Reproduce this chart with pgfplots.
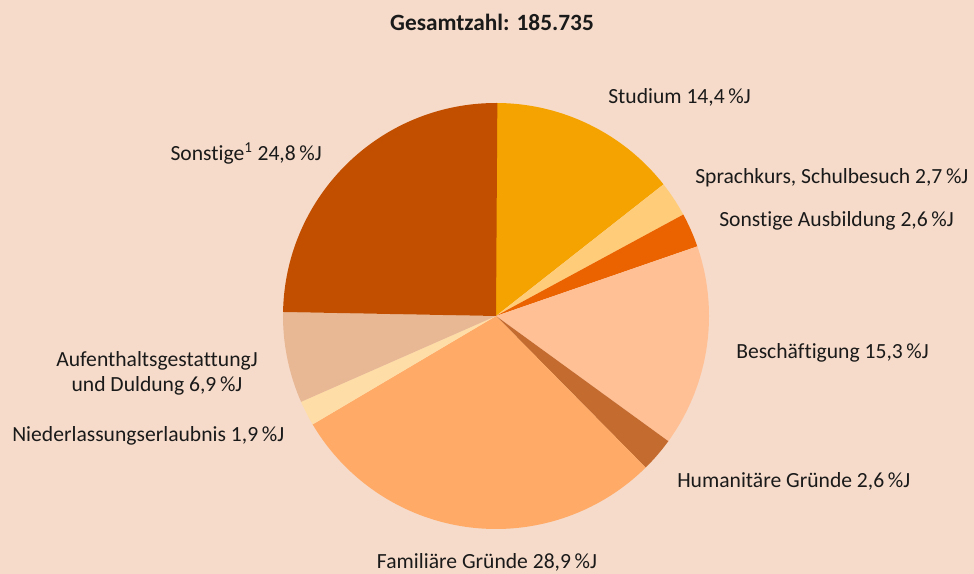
\documentclass[border=0pt]{standalone}
\usepackage{pgfplots}
\usepackage{pgfplotstable}
\pgfplotsset{compat=1.18}
\usepackage{fontspec}
\setmainfont[Ligatures=NoCommon]{Carlito}
\definecolor{bg}{HTML}{F6DBCA}
\definecolor{txt}{HTML}{1A1A1A}
\definecolor{cStud}{HTML}{F5A300}
\definecolor{cSprach}{HTML}{FFCD7A}
\definecolor{cAusb}{HTML}{EB6300}
\definecolor{cBesch}{HTML}{FFC096}
\definecolor{cHuman}{HTML}{C46C30}
\definecolor{cFam}{HTML}{FFAA66}
\definecolor{cNied}{HTML}{FFDDA6}
\definecolor{cAufent}{HTML}{E8B794}
\definecolor{cSonst}{HTML}{C24F00}

\pgfplotstableread[col sep=comma]{
label,value,color
Studium,14.4,cStud
Sprachkurs,2.7,cSprach
Ausbildung,2.6,cAusb
Beschaeftigung,15.3,cBesch
Humanitaer,2.6,cHuman
Familiaer,28.9,cFam
Niederlassung,1.9,cNied
Aufenthalt,6.9,cAufent
Sonstige,24.8,cSonst
}\piedata

\begin{document}
\begin{tikzpicture}
\begin{axis}[
  x=0.75pt, y=0.75pt,
  xmin=0, xmax=974, ymin=0, ymax=574,
  hide axis, scale only axis, clip=false,
]
\fill[bg] (axis cs:0,0) rectangle (axis cs:974,574);
\pgfplotstablegetrowsof{\piedata}
\pgfmathtruncatemacro{\N}{\pgfplotsretval-1}
\def\cum{0}
\pgfplotsforeachungrouped \i in {0,...,\N}{%
  \pgfplotstablegetelem{\i}{value}\of\piedata \let\v\pgfplotsretval
  \pgfplotstablegetelem{\i}{color}\of\piedata \let\c\pgfplotsretval
  \pgfmathsetmacro{\a}{90-3.6*\cum}%
  \pgfmathsetmacro{\b}{90-3.6*(\cum+\v)}%
  \edef\temp{\noexpand\fill[\c] (axis cs:496,258) -- ++(\a:159.75pt) arc[start angle=\a, end angle=\b, radius=159.75pt] -- cycle;}%
  \temp
  \pgfmathsetmacro{\cum}{\cum+\v}%
}
\begin{scope}[every node/.style={text=txt, font=\fontsize{16.2}{19}\selectfont, inner sep=0pt}]
\node[anchor=base, font=\fontsize{17.5}{20}\selectfont\bfseries] at (axis cs:492,543) {Gesamtzahl: 185.735};
\node[anchor=base west] at (axis cs:608,470) {Studium 14,4\,\%J};
\node[anchor=base west] at (axis cs:695,390) {Sprachkurs, Schulbesuch 2,7\,\%J};
\node[anchor=base west] at (axis cs:719,347) {Sonstige Ausbildung 2,6\,\%J};
\node[anchor=base west] at (axis cs:736,215) {Beschäftigung 15,3\,\%J};
\node[anchor=base west] at (axis cs:677,86) {Humanitäre Gründe 2,6\,\%J};
\node[anchor=base] at (axis cs:487,5) {Familiäre Gründe 28,9\,\%J};
\node[anchor=base east] at (axis cs:322,413) {Sonstige\textsuperscript{1} 24,8\,\%J};
\node[anchor=base] at (axis cs:157,207) {AufenthaltsgestattungJ};
\node[anchor=base] at (axis cs:157,182) {und Duldung 6,9\,\%J};
\node[anchor=base west] at (axis cs:12,132) {Niederlassungserlaubnis 1,9\,\%J};
\end{scope}
\end{axis}
\end{tikzpicture}
\end{document}
